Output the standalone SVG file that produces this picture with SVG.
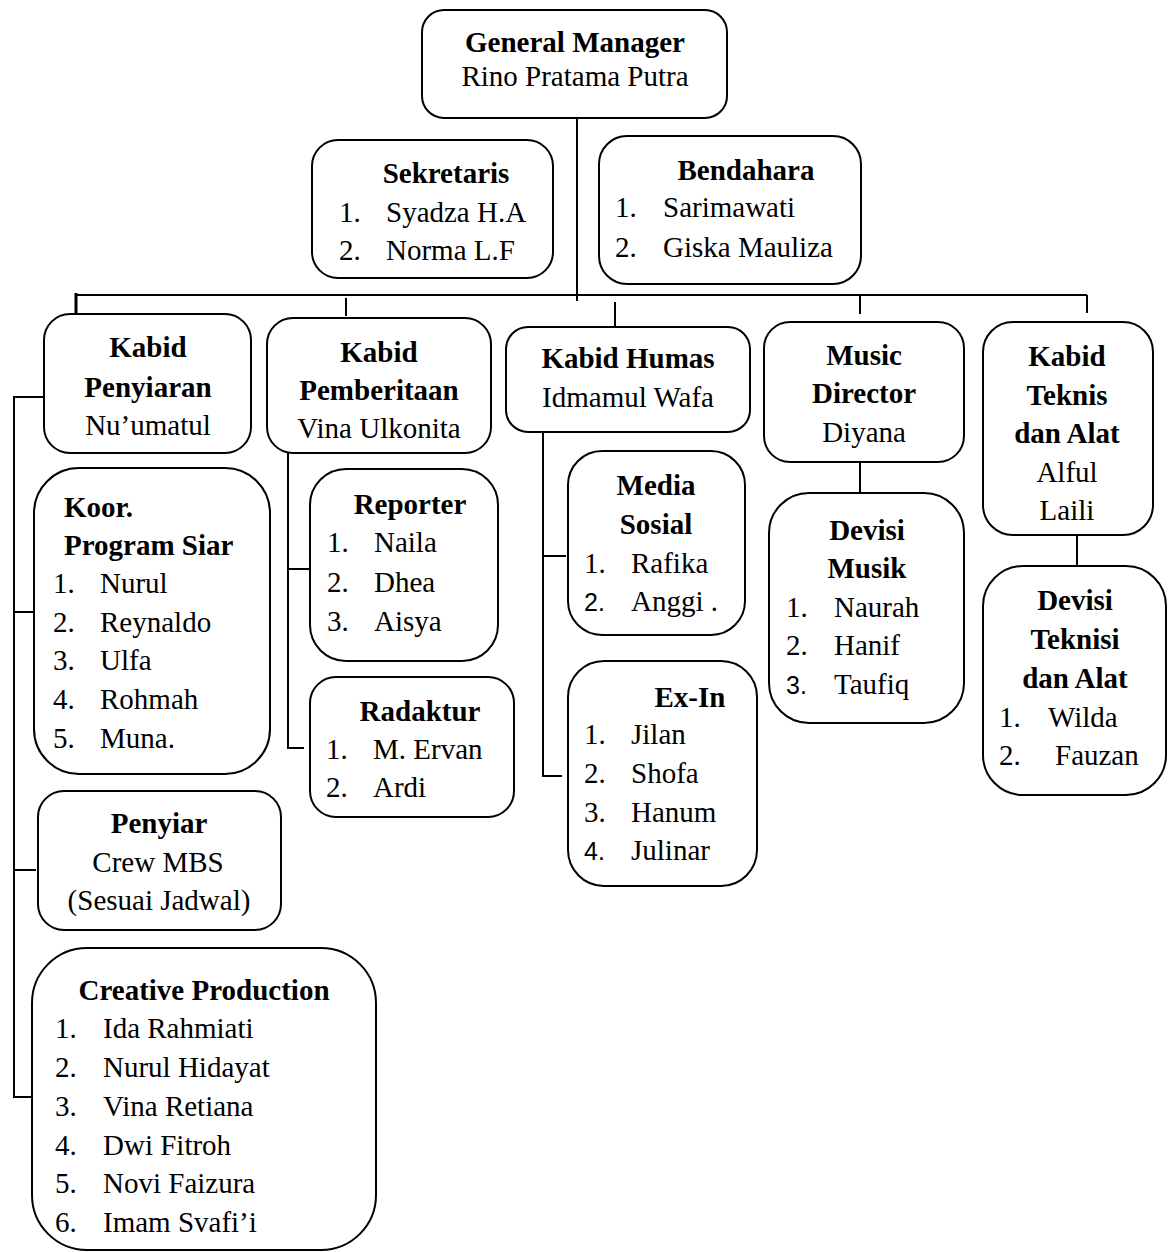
<svg xmlns="http://www.w3.org/2000/svg" width="1168" height="1252" viewBox="0 0 1168 1252">
<style>
.box{fill:#fff;stroke:#000;stroke-width:2}
.ln{fill:none;stroke:#000;stroke-width:2}
text{font-family:"Liberation Serif","Times New Roman",serif;font-size:29px;fill:#000}
.b{font-weight:bold}
.c{text-anchor:middle}
.s{font-family:"Liberation Sans",Arial,sans-serif;font-size:25px}
</style>
<rect width="1168" height="1252" fill="#fff"/>
<g id="connectors">
<path class="ln" d="M577,118 V301"/>
<path class="ln" d="M76,295 H1087"/>
<path class="ln" d="M76,293 V314" style="stroke-width:3"/>
<path class="ln" d="M346,298 V316"/>
<path class="ln" d="M615,302 V328"/>
<path class="ln" d="M860,296 V314"/>
<path class="ln" d="M1087,295 V313"/>
<path class="ln" d="M44,397 H14 V1097 H32"/>
<path class="ln" d="M14,612 H34"/>
<path class="ln" d="M14,870 H36"/>
<path class="ln" d="M288,453 V748 H304"/>
<path class="ln" d="M288,569 H310"/>
<path class="ln" d="M543,432 V776 H562"/>
<path class="ln" d="M543,556 H566"/>
<path class="ln" d="M860,462 V493"/>
<path class="ln" d="M1077,535 V570"/>
</g>
<g id="gm">
<rect class="box" x="422" y="10" width="305" height="108" rx="22"/>
<text class="b c" x="575" y="52">General Manager</text>
<text class="c" x="575" y="86">Rino Pratama Putra</text>
</g>
<g id="sekretaris">
<rect class="box" x="312" y="140" width="241" height="138" rx="26"/>
<text class="b c" x="446" y="183">Sekretaris</text>
<text x="339" y="222">1.</text><text x="386" y="222">Syadza H.A</text>
<text x="339" y="260">2.</text><text x="386" y="260">Norma L.F</text>
</g>
<g id="bendahara">
<rect class="box" x="599" y="136" width="262" height="148" rx="28"/>
<text class="b c" x="746" y="180">Bendahara</text>
<text x="615" y="217">1.</text><text x="663" y="217">Sarimawati</text>
<text x="615" y="257">2.</text><text x="663" y="257">Giska Mauliza</text>
</g>
<g id="kabid-penyiaran">
<rect class="box" x="44" y="314" width="207" height="139" rx="26"/>
<text class="b c" x="148" y="357">Kabid</text>
<text class="b c" x="148" y="397">Penyiaran</text>
<text class="c" x="148" y="435">Nu’umatul</text>
</g>
<g id="kabid-pemberitaan">
<rect class="box" x="267" y="318" width="224" height="135" rx="26"/>
<text class="b c" x="379" y="362">Kabid</text>
<text class="b c" x="379" y="400">Pemberitaan</text>
<text class="c" x="379" y="438">Vina Ulkonita</text>
</g>
<g id="kabid-humas">
<rect class="box" x="506" y="327" width="244" height="105" rx="22"/>
<text class="b c" x="628" y="368">Kabid Humas</text>
<text class="c" x="628" y="407">Idmamul Wafa</text>
</g>
<g id="music-director">
<rect class="box" x="764" y="322" width="200" height="140" rx="26"/>
<text class="b c" x="864" y="365">Music</text>
<text class="b c" x="864" y="403">Director</text>
<text class="c" x="864" y="442">Diyana</text>
</g>
<g id="kabid-teknis">
<rect class="box" x="983" y="322" width="170" height="213" rx="30"/>
<text class="b c" x="1067" y="366">Kabid</text>
<text class="b c" x="1067" y="405">Teknis</text>
<text class="b c" x="1067" y="443">dan Alat</text>
<text class="c" x="1067" y="482">Alful</text>
<text class="c" x="1067" y="520">Laili</text>
</g>
<g id="koor-program-siar">
<rect class="box" x="34" y="468" width="236" height="306" rx="45"/>
<text class="b" x="64" y="517">Koor.</text>
<text class="b" x="64" y="555">Program Siar</text>
<text x="53" y="593">1.</text><text x="100" y="593">Nurul</text>
<text x="53" y="632">2.</text><text x="100" y="632">Reynaldo</text>
<text x="53" y="670">3.</text><text x="100" y="670">Ulfa</text>
<text x="53" y="709">4.</text><text x="100" y="709">Rohmah</text>
<text x="53" y="748">5.</text><text x="100" y="748">Muna.</text>
</g>
<g id="penyiar">
<rect class="box" x="38" y="791" width="243" height="139" rx="26"/>
<text class="b c" x="159" y="833">Penyiar</text>
<text class="c" x="158" y="872">Crew MBS</text>
<text class="c" x="159" y="910">(Sesuai Jadwal)</text>
</g>
<g id="creative-production">
<rect class="box" x="32" y="948" width="344" height="302" rx="55"/>
<text class="b c" x="204" y="1000">Creative Production</text>
<text x="55" y="1038">1.</text><text x="103" y="1038">Ida Rahmiati</text>
<text x="55" y="1077">2.</text><text x="103" y="1077">Nurul Hidayat</text>
<text x="55" y="1116">3.</text><text x="103" y="1116">Vina Retiana</text>
<text x="55" y="1155">4.</text><text x="103" y="1155">Dwi Fitroh</text>
<text x="55" y="1193">5.</text><text x="103" y="1193">Novi Faizura</text>
<text x="55" y="1232">6.</text><text x="103" y="1232">Imam Svafi’i</text>
</g>
<g id="reporter">
<rect class="box" x="310" y="469" width="188" height="192" rx="36"/>
<text class="b c" x="410" y="514">Reporter</text>
<text x="327" y="552">1.</text><text x="374" y="552">Naila</text>
<text x="327" y="592">2.</text><text x="374" y="592">Dhea</text>
<text x="327" y="631">3.</text><text x="374" y="631">Aisya</text>
</g>
<g id="radaktur">
<rect class="box" x="310" y="677" width="204" height="140" rx="26"/>
<text class="b c" x="420" y="721">Radaktur</text>
<text x="326" y="759">1.</text><text x="373" y="759">M. Ervan</text>
<text x="326" y="797">2.</text><text x="373" y="797">Ardi</text>
</g>
<g id="media-sosial">
<rect class="box" x="568" y="451" width="177" height="184" rx="34"/>
<text class="b c" x="656" y="495">Media</text>
<text class="b c" x="656" y="534">Sosial</text>
<text x="584" y="573">1.</text><text x="631" y="573">Rafika</text>
<text class="s" x="584" y="611">2.</text><text x="631" y="611">Anggi .</text>
</g>
<g id="ex-in">
<rect class="box" x="568" y="661" width="189" height="225" rx="36"/>
<text class="b c" x="690" y="707">Ex-In</text>
<text x="584" y="744">1.</text><text x="631" y="744">Jilan</text>
<text x="584" y="783">2.</text><text x="631" y="783">Shofa</text>
<text x="584" y="822">3.</text><text x="631" y="822">Hanum</text>
<text class="s" x="584" y="860">4.</text><text x="631" y="860">Julinar</text>
</g>
<g id="devisi-musik">
<rect class="box" x="769" y="493" width="195" height="230" rx="40"/>
<text class="b c" x="867" y="540">Devisi</text>
<text class="b c" x="867" y="578">Musik</text>
<text x="786" y="617">1.</text><text x="834" y="617">Naurah</text>
<text x="786" y="655">2.</text><text x="834" y="655">Hanif</text>
<text class="s" x="786" y="694">3.</text><text x="834" y="694">Taufiq</text>
</g>
<g id="devisi-teknisi">
<rect class="box" x="983" y="566" width="183" height="229" rx="40"/>
<text class="b c" x="1075" y="610">Devisi</text>
<text class="b c" x="1075" y="649">Teknisi</text>
<text class="b c" x="1075" y="688">dan Alat</text>
<text x="999" y="727">1.</text><text x="1048" y="727">Wilda</text>
<text x="999" y="765">2.</text><text x="1055" y="765">Fauzan</text>
</g>
</svg>
